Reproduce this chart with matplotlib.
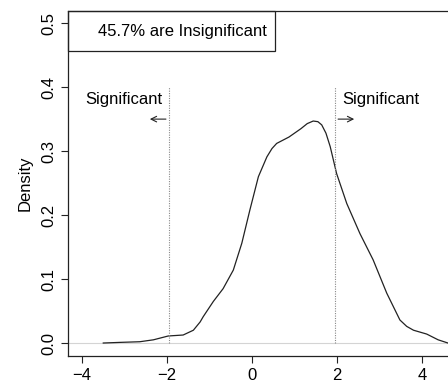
import matplotlib
matplotlib.use("Agg")
import matplotlib.pyplot as plt
from matplotlib.patches import Rectangle

plt.rcParams['font.family'] = ['Liberation Sans', 'DejaVu Sans']

# density curve
xs = [-3.5, -3.1, -2.64, -2.32, -1.97, -1.62, -1.38, -1.22, -1.15, -0.91, -0.68,
      -0.44, -0.24, -0.05, 0.15, 0.35, 0.47, 0.58, 0.87, 1.15, 1.3, 1.44, 1.55,
      1.64, 1.74, 1.84, 1.99, 2.23, 2.54, 2.85, 3.17, 3.48, 3.64, 3.80, 4.11,
      4.38, 4.61, 4.95]
ys = [0.0, 0.001, 0.002, 0.005, 0.011, 0.0125, 0.020, 0.033, 0.041, 0.065, 0.085,
      0.114, 0.156, 0.208, 0.260, 0.291, 0.304, 0.312, 0.322, 0.335, 0.343, 0.347,
      0.346, 0.341, 0.328, 0.307, 0.265, 0.218, 0.171, 0.130, 0.078, 0.036, 0.026,
      0.020, 0.014, 0.005, 0.0, 0.0]
cutoffs = [-1.96, 1.96]
legend_text = "45.7% are Insignificant"
xticks = [-4, -2, 0, 2, 4]
yticks = [0.0, 0.1, 0.2, 0.3, 0.4, 0.5]

fig = plt.figure(figsize=(4.48, 3.85), dpi=100)
ax = fig.add_axes([68 / 448, 29 / 385, 422 / 448, 345 / 385])
ax.set_xlim(-4.33, 5.6)
ax.set_ylim(-0.0203, 0.519)

ax.axhline(0, color='#d4d4d4', lw=0.8)
ax.plot(xs, ys, color='#222222', lw=0.9, solid_joinstyle='round')
for c in cutoffs:
    ax.plot([c, c], [0, 0.4], color='#888888', lw=0.8, ls=(0, (1, 1.2)))

ax.text(-3.01, 0.381, "Significant", ha='center', va='center', fontsize=12)
ax.text(3.04, 0.381, "Significant", ha='center', va='center', fontsize=12)
ax.annotate("", xy=(-2.47, 0.35), xytext=(-1.96, 0.35),
            arrowprops=dict(arrowstyle='->', color='#222222', lw=0.8))
ax.annotate("", xy=(2.47, 0.35), xytext=(1.96, 0.35),
            arrowprops=dict(arrowstyle='->', color='#222222', lw=0.8))

ax.add_patch(Rectangle((-4.33, 0.456), 4.87, 0.063, fill=False,
                       edgecolor='#222222', lw=0.9, clip_on=False))
ax.text(-3.63, 0.4875, legend_text, ha='left', va='center', fontsize=12)

ax.set_xticks(xticks)
ax.set_yticks(yticks)
ax.set_yticklabels([f"{v:.1f}" for v in yticks], rotation=90, va='center')
ax.tick_params(direction='out', length=5, width=0.8, labelsize=12, color='#222222')
ax.set_ylabel("Density", fontsize=12, labelpad=6)
for s in ax.spines.values():
    s.set_linewidth(0.9)
    s.set_color('#222222')

fig.savefig("out.png", dpi=100)
